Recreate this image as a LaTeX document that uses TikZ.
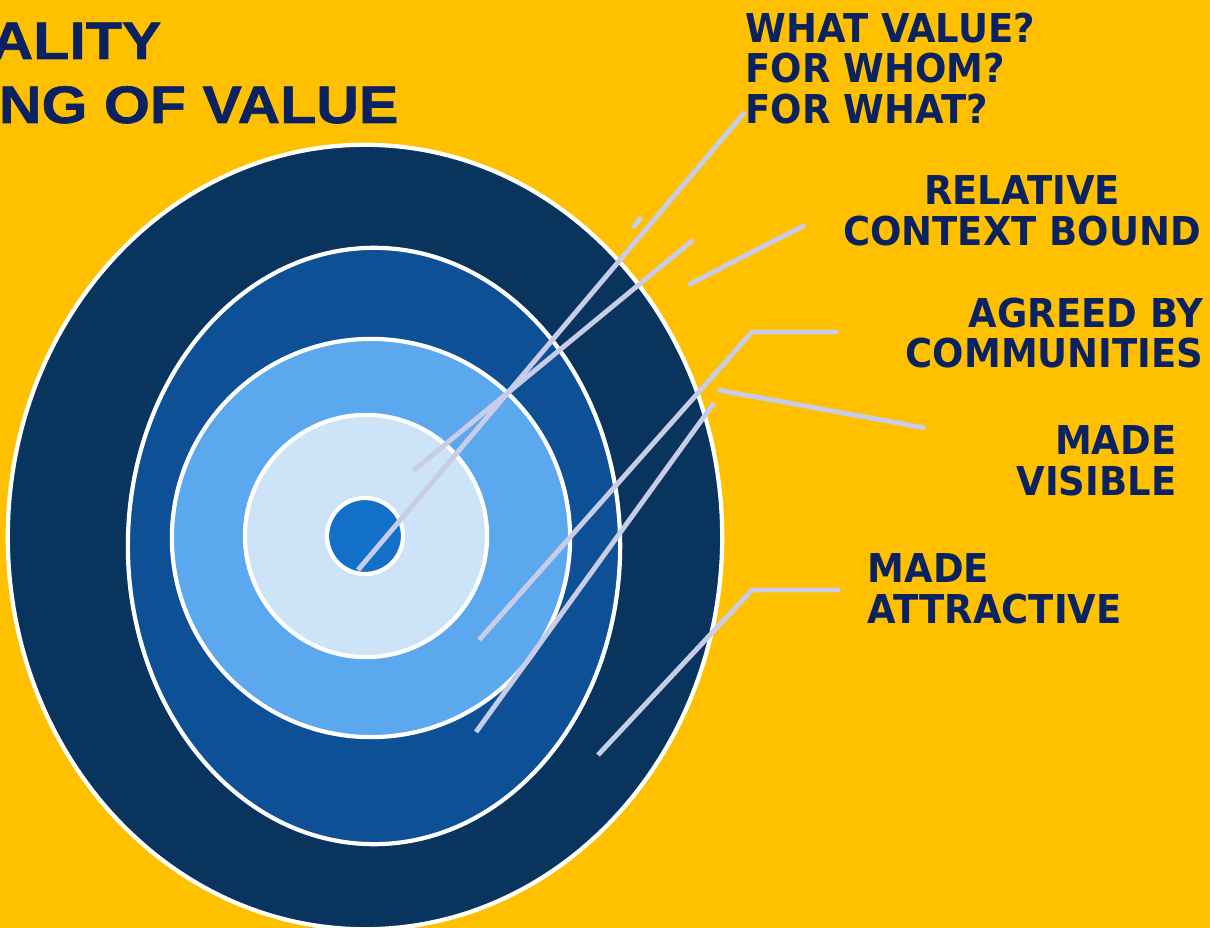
\documentclass[tikz,border=0pt]{standalone}
\usepackage{fontspec}
\setmainfont{DejaVu Sans}
\newfontfamily\titlefont[FakeStretch=1.12,FakeBold=1.2]{Liberation Sans}
\newfontfamily\tagfont[FakeStretch=0.93]{DejaVu Sans}
\usepackage{xcolor}
\usetikzlibrary{positioning}
\definecolor{amber}{RGB}{255,192,0}
\definecolor{navy}{RGB}{9,52,94}
\definecolor{midblue}{RGB}{13,80,150}
\definecolor{skyblue}{RGB}{92,168,238}
\definecolor{paleblue}{RGB}{204,227,248}
\definecolor{coreblue}{RGB}{18,112,200}
\definecolor{leader}{RGB}{200,204,230}
\definecolor{ink}{RGB}{10,34,96}
\tikzstyle{ring} = [draw=white, line width=1.2pt]
\tikzstyle{line} = [draw, leader, line width=1.4pt]
\tikzstyle{tag} = [inner sep=0pt, text=ink,
font=\tagfont\bfseries\fontsize{11.3}{11.6}\selectfont]

\begin{document}
\begin{tikzpicture}[x=0.01cm, y=-0.01cm,
title/.style={inner sep=0pt, text=ink, anchor=base east,
font=\titlefont\bfseries\fontsize{15}{18}\selectfont}]
\useasboundingbox[fill=amber] (0,0) rectangle (1210,928);
%% Target
\begin{scope}
\clip (0,0) rectangle (1210,928);
\path [ring, fill=navy] (365,537) ellipse [x radius=3.57cm, y radius=3.92cm];
\path [ring, fill=midblue] (374,546) ellipse [x radius=2.46cm, y radius=2.98cm];
\path [ring, fill=skyblue] (371,538) ellipse [x radius=1.99cm, y radius=1.99cm];
\path [ring, fill=paleblue] (366,536) circle [radius=1.21cm];
\path [ring, fill=coreblue] (365,536) circle [radius=0.38cm];
\end{scope}
%% Title
\node [title] (T1) at (162,59) {ALITY};
\node [title] (T2) at (399,123) {NG OF VALUE};
%% Labels
\node [tag, align=left, anchor=north west] (L1) at (745,12)
{WHAT VALUE?\\FOR WHOM?\\FOR WHAT?};
\node [tag, align=center, anchor=north] (L2) at (1022,175)
{RELATIVE\\CONTEXT BOUND};
\node [tag, align=right, anchor=north east] (L3) at (1204,297)
{AGREED BY\\COMMUNITIES};
\node [tag, align=right, anchor=north east] (L4) at (1177,425)
{MADE\\VISIBLE};
\node [tag, align=left, anchor=north west] (L5) at (867,553)
{MADE\\ATTRACTIVE};
%% Leader points
\coordinate (a0) at (358,570);
\coordinate (a1) at (745,112);
\coordinate (s0) at (633,228);
\coordinate (s1) at (641,217);
\coordinate (b0) at (413,471);
\coordinate (b1) at (693,240);
\coordinate (c0) at (688,285);
\coordinate (c1) at (805,225);
\coordinate (d0) at (479,640);
\coordinate (d1) at (752,332);
\coordinate (d2) at (838,332);
\coordinate (e0) at (718,390);
\coordinate (e1) at (925,428);
\coordinate (f0) at (476,732);
\coordinate (f1) at (714,403);
\coordinate (g0) at (598,755);
\coordinate (g1) at (752,590);
\coordinate (g2) at (840,590);
%% Leaders
\path [line] (a0) -- (a1);
\path [line] (s0) -- (s1);
\path [line] (b0) -- (b1);
\path [line] (c0) -- (c1);
\path [line] (d0) -- (d1) -- (d2);
\path [line] (e0) -- (e1);
\path [line] (f0) -- (f1);
\path [line] (g0) -- (g1) -- (g2);
\end{tikzpicture}
\end{document}
